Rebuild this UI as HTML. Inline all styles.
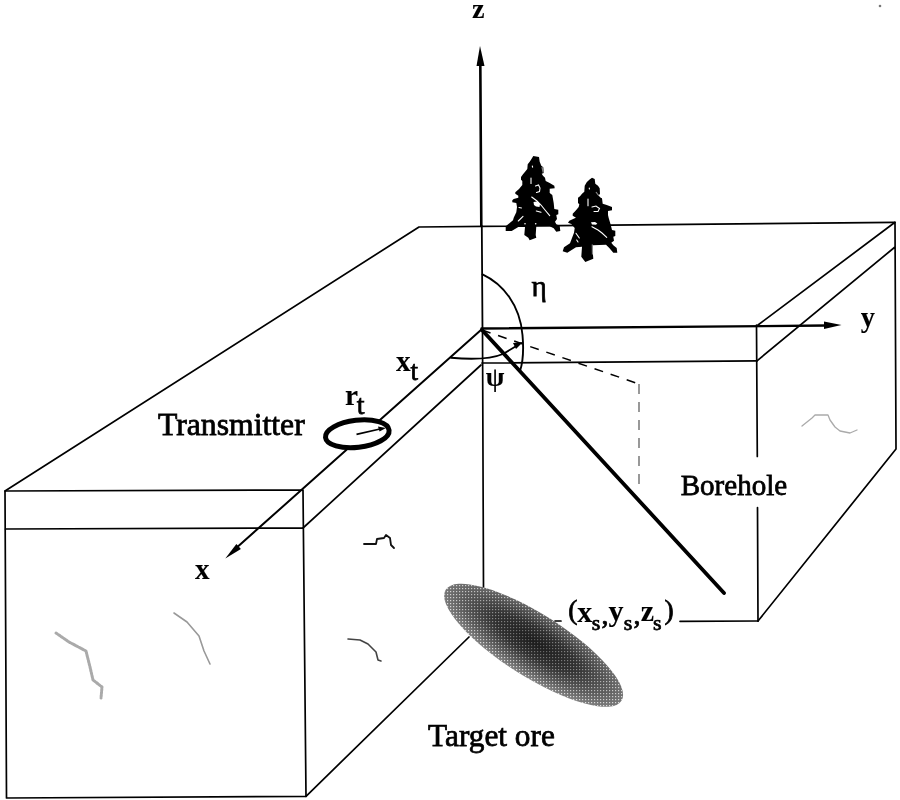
<!DOCTYPE html>
<html><head><meta charset="utf-8">
<style>
html,body{margin:0;padding:0;background:#fff;}
svg{display:block;will-change:transform;}
text{font-family:"Liberation Serif",serif;fill:#000;stroke:#000;stroke-width:0.75px;}
.b{font-weight:bold;stroke-width:0.1px;}
</style></head>
<body>
<svg width="900" height="800" viewBox="0 0 900 800">
<defs>
<radialGradient id="ore" cx="0.5" cy="0.45" r="0.55">
<stop offset="0" stop-color="#1c1c1c"/>
<stop offset="0.4" stop-color="#303030"/>
<stop offset="0.75" stop-color="#5c5c5c"/>
<stop offset="1" stop-color="#848484"/>
</radialGradient>
<pattern id="dots" width="3" height="3" patternUnits="userSpaceOnUse">
<rect x="0" y="0" width="1.2" height="1.2" fill="#fff"/>
</pattern>
<radialGradient id="dm" cx="0.5" cy="0.45" r="0.55">
<stop offset="0" stop-color="#fff" stop-opacity="0.25"/>
<stop offset="0.6" stop-color="#fff" stop-opacity="0.5"/>
<stop offset="1" stop-color="#fff" stop-opacity="0.8"/>
</radialGradient>
<mask id="orem" maskContentUnits="userSpaceOnUse">
<ellipse cx="533.6" cy="645.3" rx="104" ry="31.3" transform="rotate(32.3 533.6 645.3)" fill="url(#dm)"/>
</mask>
</defs>
<g fill="none" stroke="#000" stroke-width="1.7" stroke-linecap="round" stroke-linejoin="round">
<path d="M5,491 L303,490 M5,529 L303,528 M5,491 L6.5,798 L306,796.3 M303,490 L306,796.3"/>
<path d="M5,491 L419,227 L895,222.3"/>
<path d="M895,222.3 L758,325 M895,247 L757,360.8 M895,222.3 L896,449 L758,621"/>
<path d="M756.5,325 L757.3,456.5 M757.5,507.5 L758,621"/>
<path d="M680,621.3 L758,621"/>
<path d="M482,363 L757,360.8"/>
<path d="M482.5,330 L483.5,587"/>
<path d="M481,365 L303,528"/>
<path d="M306,796.3 L469,637"/>
<path d="M480.3,62 L481.3,226" stroke-width="2.6"/>
<path d="M481.8,226 L482.5,330" stroke-width="1.8"/>
<path d="M481.5,329.5 L234,550" stroke-width="2"/>
<path d="M481.5,328.5 L826,325.5" stroke-width="2.3"/>
<path d="M482.5,274.4 C503,284 520,305 522.5,335 C524,352 523,362 520,371" stroke-width="1.9"/>
<path d="M451,357.8 C470,359.5 490,359.5 503,354 L518,345" stroke-width="1.9"/>
<path d="M482,330 L639,384" stroke-width="1.5" stroke-dasharray="9,8" stroke-linecap="butt"/>
<path d="M639,384 L639,488" stroke="#555" stroke-width="1.2" stroke-dasharray="10,8" stroke-linecap="butt"/>
<path d="M482,330 L724,593" stroke-width="3.8"/>
<path d="M555,621 L561,621"/>
</g>
<g fill="#000" stroke="none">
<polygon points="480,46 476.5,66 484.5,66"/>
<polygon points="841.5,325 824,321.5 824,329"/>
<polygon points="225.3,558.4 236.4,544.1 240.9,549"/>
<polygon points="523,342 513,343 516,349"/>
</g>
<ellipse cx="357.3" cy="433.8" rx="32" ry="13.6" transform="rotate(-6.5 357.3 433.8)" fill="#fff" stroke="#000" stroke-width="5"/>
<path d="M356.5,434.4 L381,428.8" stroke="#000" stroke-width="1.6" fill="none"/>
<polygon points="386,428 378,426.5 379.5,431.5" fill="#000"/>
<ellipse cx="533.6" cy="645.3" rx="104" ry="31.3" transform="rotate(32.3 533.6 645.3)" fill="url(#ore)"/>
<rect x="420" y="570" width="210" height="145" fill="url(#dots)" mask="url(#orem)"/>
<g fill="none" stroke-linecap="round" stroke-linejoin="round">
<path d="M364,544 L376,544 L377,539 L384,538 L386,535 L390,538 L391,545 L394,548" stroke="#111" stroke-width="1.8"/>
<path d="M348,639 L360,640 L368,644 L376,652 L378,660 L381,661" stroke="#444" stroke-width="1.6"/>
<path d="M56,633 L69,642 L86,651 L90,667 L93,680 L102,687 L101,698" stroke="#aaa" stroke-width="3" stroke-dasharray="2,1"/>
<path d="M174,613 L187,622 L199,636 L204,651 L210,664" stroke="#999" stroke-width="1.6"/>
<path d="M802,426 L812,418 L815,415 L828,415 L830,420 L835,427 L840,431 L850,433 L857,430" stroke="#aaa" stroke-width="1.3"/>
</g>
<circle cx="880" cy="6" r="1.3" fill="#777"/>
<g fill="#000">
<path d="M533.3,156.0 L539.0,157.0 L539.7,161.7 L541.3,165.7 L543.3,167.3 L543.7,173.0 L541.7,173.7 L543.0,175.7 L545.0,177.7 L545.7,181.0 L549.7,183.0 L554.3,185.7 L554.7,188.3 L549.7,188.7 L549.7,193.0 L552.3,195.0 L553.7,203.0 L554.3,209.0 L558.3,209.7 L558.3,214.3 L556.3,215.0 L557.0,219.0 L555.0,221.7 L556.3,224.3 L559.7,225.7 L560.3,231.0 L556.3,231.7 L553.7,228.3 L549.7,226.3 L536.3,226.3 L535.7,235.0 L536.3,237.7 L529.7,240.3 L528.3,237.7 L524.3,235.0 L525.0,227.0 L518.3,227.0 L511.7,231.0 L505.7,231.0 L505.7,226.3 L509.7,223.0 L513.0,220.3 L513.7,217.7 L516.3,212.3 L517.0,207.0 L516.3,203.0 L512.3,202.3 L512.3,200.3 L513.7,199.0 L518.3,197.7 L518.3,195.7 L515.3,193.7 L515.3,192.3 L519.0,189.0 L522.3,185.0 L522.3,181.0 L521.0,179.7 L521.0,177.0 L523.0,174.3 L525.7,171.0 L527.3,169.0 L527.7,164.3 L529.7,161.7 L531.0,159.7 Z"/>
<path d="M592.0,177.7 L594.7,179.0 L595.3,183.7 L598.0,185.7 L599.7,188.3 L600.0,194.3 L598.0,195.0 L600.7,197.7 L602.0,198.3 L602.7,203.7 L606.7,205.0 L612.0,207.0 L612.0,210.3 L608.0,211.0 L608.0,215.0 L608.7,218.0 L610.7,224.7 L612.0,230.0 L615.3,230.7 L615.3,236.0 L613.3,236.7 L614.0,240.7 L611.3,242.7 L613.3,245.3 L616.7,248.0 L617.3,252.7 L613.3,252.7 L609.3,248.0 L606.0,244.7 L592.7,245.3 L592.7,251.3 L593.3,258.7 L585.3,262.0 L581.3,256.7 L582.0,246.7 L576.0,247.3 L567.3,252.7 L562.7,251.3 L564.0,247.3 L570.0,243.3 L572.0,238.0 L574.0,232.7 L574.7,228.0 L571.3,224.0 L568.0,222.7 L569.3,220.7 L575.3,218.0 L576.0,217.7 L572.7,215.7 L572.7,213.7 L576.0,210.3 L578.7,207.0 L579.3,204.3 L578.0,203.0 L578.0,197.7 L580.0,196.3 L582.0,193.7 L584.3,191.7 L584.7,185.7 L586.7,182.3 L589.3,179.7 Z"/>
</g>
<g fill="none" stroke="#fff" stroke-width="1.1" stroke-linecap="round">
<path d="M531.7,197 L537,201 L541,205 L545,210 L549.7,215.7"/>
<path d="M531,178 L531,183.5"/>
<path d="M535.5,186 L538.5,185 L540,188 L539.5,191.5 L536.5,192.5"/>
<path d="M536.3,211 L541,212.3"/>
<path d="M518.3,221 L523,216.3"/>
<path d="M532.3,166 L532.6,167.2"/>
<path d="M519,207.5 L521.5,208"/>
<path d="M592,226.7 L598,230 L602,233 L606.7,237.3"/>
<path d="M588,199 L588,205.7"/>
<path d="M592,207 L596,206 L599.5,208.5 L598,211.5 L594,211.5"/>
<path d="M576,233.3 L579.3,238"/>
<path d="M576.7,240 L578,242"/>
<path d="M589.3,188 L589.4,189"/>
</g>
<g fill="#fff" stroke="none">
<path d="M533.5,202 L537,201.5 L540,204 L539.5,207 L536,206.5 L534,205 Z"/>
<path d="M591,222.3 L595,222 L597.3,223.5 L596,224.8 L592,224.6 Z"/>
<circle cx="525" cy="223.7" r="0.8"/>
<circle cx="535.7" cy="223.7" r="0.8"/>
</g>
<g fill="none" stroke="#888" stroke-width="1.2">
<path d="M542,167 L543.2,172.5"/>
<path d="M596,192 L598.2,195"/>
<path d="M592.3,244.5 L592.5,254.5"/>
</g>
<text class="b" x="472" y="17.5" font-size="28.3">z</text>
<text class="b" x="860.7" y="326.6" font-size="28.4">y</text>
<text class="b" x="195" y="578.7" font-size="29.1">x</text>
<text class="b" x="396" y="370.8" font-size="29.3">x</text>
<text x="410.5" y="380.2" font-size="27">t</text>
<text class="b" x="345" y="404.6" font-size="29.4">r</text>
<text x="356.7" y="413.8" font-size="28">t</text>
<text x="531.4" y="296.1" font-size="29.2">η</text>
<text class="b" x="485.7" y="386.1" font-size="27">ψ</text>
<text transform="translate(157.9,435.2) scale(1.03,1)" font-size="30.8">Transmitter</text>
<text transform="translate(680.7,495) scale(0.969,1)" font-size="30">Borehole</text>
<text transform="translate(428.1,745.8) scale(1.0,1)" font-size="31.3">Target ore</text>
<text x="568.2" y="619.3" font-size="27.5">(</text>
<text class="b" x="577.3" y="621.5" font-size="30">x</text>
<text x="591.8" y="630" font-size="22">s</text>
<text x="601.6" y="623.8" font-size="28">,</text>
<text class="b" x="608.4" y="621.1" font-size="30">y</text>
<text x="623.8" y="630" font-size="22">s</text>
<text x="633.6" y="623.8" font-size="28">,</text>
<text class="b" x="640.7" y="621.1" font-size="30">z</text>
<text x="653.1" y="630" font-size="22">s</text>
<text x="664.5" y="619.3" font-size="27.5">)</text>
</svg>
</body></html>
